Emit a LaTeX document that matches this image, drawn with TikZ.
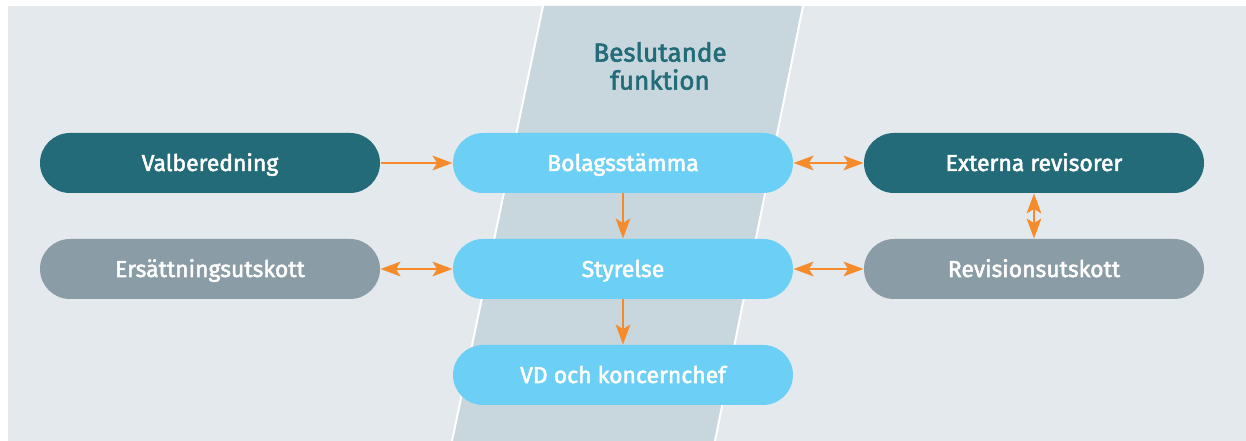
\documentclass[tikz,border=0pt]{standalone}
\usepackage{fontspec}
\setmainfont[FakeBold=2.2]{Fira Sans}
\usetikzlibrary{arrows.meta}

\tikzset{every picture/.style={line width=0.75pt},
  pill/.style={rounded corners=22.5pt, minimum width=255pt, minimum height=45pt, inner sep=0pt, text height=15pt, text depth=3pt, text=white, font=\fontsize{17.2}{20}\selectfont},
  darkpill/.style={pill, fill={rgb, 255:red, 35; green, 107; blue, 120 }},
  graypill/.style={pill, fill={rgb, 255:red, 138; green, 156; blue, 165 }},
  lightpill/.style={pill, fill={rgb, 255:red, 108; green, 207; blue, 246 }},
  link/.style={draw={rgb, 255:red, 245; green, 139; blue, 42 }, line width=1.6pt, -{Stealth[length=15pt,width=11pt,inset=3.5pt]}},
  linkboth/.style={link, {Stealth[length=15pt,width=11pt,inset=3.5pt]}-{Stealth[length=15pt,width=11pt,inset=3.5pt]}},
}

\begin{document}
\begin{tikzpicture}[x=0.75pt,y=0.75pt,yscale=-1,xscale=1]
\useasboundingbox (0,0) rectangle (1246,441);

%Shape: Rectangle [id:background]
\fill [white] (0,0) rectangle (1246,441);
\fill [color={rgb, 255:red, 228; green, 233; blue, 237 }] (8,6) rectangle (1246,441);
%Shape: Band [id:band]
\fill [color={rgb, 255:red, 199; green, 215; blue, 221 }] (543,6) -- (803,6) -- (715,441) -- (452,441) -- cycle;
%Straight Lines [id:bandedges]
\draw [white, line width=1.5pt] (543,6) -- (452,441);
\draw [white, line width=1.5pt] (803,6) -- (715,441);

% Text Node
\node [align=center, text={rgb, 255:red, 35; green, 107; blue, 120 }, font=\fontsize{19.5}{21}\selectfont] (title) at (660,66) {Beslutande\\funktion};

% Boxes
\node [darkpill] (valb) at (210,163) {Valberedning};
\node [lightpill] (stamma) at (623,163) {Bolagsstämma};
\node [darkpill] (extrev) at (1034,163) {Externa revisorer};
\node [graypill] (ersutsk) at (210,269) {Ersättningsutskott};
\node [lightpill] (styr) at (623,269) {Styrelse};
\node [graypill] (revutsk) at (1034,269) {Revisionsutskott};
\node [lightpill] (vd) at (623,375) {VD och koncernchef};

% Arrows
\draw [link] (valb) -- (stamma);
\draw [linkboth] (stamma) -- (extrev);
\draw [link] (stamma) -- (styr);
\draw [linkboth] (ersutsk) -- (styr);
\draw [linkboth] (styr) -- (revutsk);
\draw [linkboth] (extrev) -- (revutsk);
\draw [link] (styr) -- (vd);

\end{tikzpicture}
\end{document}
